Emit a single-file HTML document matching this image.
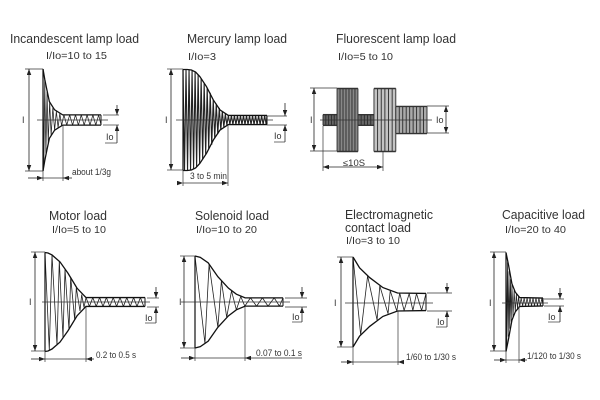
<!DOCTYPE html>
<html lang="en">
<head>
<meta charset="utf-8">
<title>Inrush current by load type</title>
<style>
html,body{margin:0;padding:0;background:#fff;width:600px;height:400px;overflow:hidden}
svg{display:block;filter:blur(0.35px)}
text{font-family:"Liberation Sans",sans-serif;fill:#333}
.t{font-size:12.5px}
.s{font-size:10.5px}
.d{font-size:9px}
</style>
</head>
<body>
<svg id="chart" xmlns="http://www.w3.org/2000/svg" width="600" height="400" viewBox="0 0 600 400">
<defs>
<marker id="a" viewBox="0 0 8 6" refX="8" refY="3" markerWidth="7" markerHeight="4.5" markerUnits="userSpaceOnUse" orient="auto"><path d="M0 0L8 3L0 6Z" fill="#222"/></marker>
</defs>
<rect width="600" height="400" fill="#fff"/>
<g id="marks"></g>
<g>
<text class="t" x="10" y="43" textLength="129" lengthAdjust="spacingAndGlyphs">Incandescent lamp load</text>
<text class="s" x="46" y="59" textLength="61" lengthAdjust="spacingAndGlyphs">I/Io=10 to 15</text>
<text class="t" x="187" y="43" textLength="100" lengthAdjust="spacingAndGlyphs">Mercury lamp load</text>
<text class="s" x="188" y="60" textLength="28" lengthAdjust="spacingAndGlyphs">I/Io=3</text>
<text class="t" x="336" y="43" textLength="120" lengthAdjust="spacingAndGlyphs">Fluorescent lamp load</text>
<text class="s" x="338" y="60" textLength="55" lengthAdjust="spacingAndGlyphs">I/Io=5 to 10</text>
<text class="t" x="49" y="220" textLength="58" lengthAdjust="spacingAndGlyphs">Motor load</text>
<text class="s" x="52" y="233" textLength="54" lengthAdjust="spacingAndGlyphs">I/Io=5 to 10</text>
<text class="t" x="195" y="220" textLength="74" lengthAdjust="spacingAndGlyphs">Solenoid load</text>
<text class="s" x="196" y="233" textLength="61" lengthAdjust="spacingAndGlyphs">I/Io=10 to 20</text>
<text class="t" x="345" y="219" textLength="88" lengthAdjust="spacingAndGlyphs">Electromagnetic</text>
<text class="t" x="345" y="232" textLength="66" lengthAdjust="spacingAndGlyphs">contact load</text>
<text class="s" x="346" y="244" textLength="54" lengthAdjust="spacingAndGlyphs">I/Io=3 to 10</text>
<text class="t" x="502" y="219" textLength="83" lengthAdjust="spacingAndGlyphs">Capacitive load</text>
<text class="s" x="505" y="233" textLength="61" lengthAdjust="spacingAndGlyphs">I/Io=20 to 40</text>
</g>
<g>
<text class="d" x="22" y="123">I</text>
<text class="d" x="106" y="140">Io</text>
<text class="d" x="72" y="175" textLength="39" lengthAdjust="spacingAndGlyphs">about 1/3g</text>
<text class="d" x="165" y="123">I</text>
<text class="d" x="274" y="139">Io</text>
<text class="d" x="190" y="179" textLength="37" lengthAdjust="spacingAndGlyphs">3 to 5 min</text>
<text class="d" x="310" y="123">I</text>
<text class="d" x="436" y="123">Io</text>
<text class="d" x="343" y="166" textLength="22" lengthAdjust="spacingAndGlyphs">≤10S</text>
<text class="d" x="29" y="305">I</text>
<text class="d" x="145" y="321">Io</text>
<text class="d" x="96" y="358" textLength="40" lengthAdjust="spacingAndGlyphs">0.2 to 0.5 s</text>
<text class="d" x="179" y="305">I</text>
<text class="d" x="292" y="320">Io</text>
<text class="d" x="256" y="356" textLength="46" lengthAdjust="spacingAndGlyphs">0.07 to 0.1 s</text>
<text class="d" x="334" y="306">I</text>
<text class="d" x="437" y="325">Io</text>
<text class="d" x="406" y="360" textLength="50" lengthAdjust="spacingAndGlyphs">1/60 to 1/30 s</text>
<text class="d" x="489" y="306">I</text>
<text class="d" x="548" y="320">Io</text>
<text class="d" x="527" y="359" textLength="54" lengthAdjust="spacingAndGlyphs">1/120 to 1/30 s</text>
</g>
</svg>
<script>
// Time is percent of the plotted span; values are percent of peak current.
const incandescentEnvT = [0, 3, 6, 11, 20, 34, 100];
const incandescentEnvA = [100, 80, 63, 36, 20, 10, 10];
const incandescentWaveT = [0, 1.5, 3, 5, 7, 9, 11.5, 14, 17, 20, 23, 26, 29, 32, 36, 41, 46, 51, 56, 61, 66, 71, 76, 81, 86, 91, 96, 100];
const incandescentWaveV = [100, -90, 78, -66, 55, -45, 36, -30, 24, -20, 17, -15, 13, -11, 10, -10, 10, -10, 10, -10, 10, -10, 10, -10, 10, -10, 10, -10];

const mercuryEnvT = [0, 5, 10, 15, 20, 28, 36, 44, 54, 100];
const mercuryEnvA = [100, 100, 99, 95, 86, 66, 40, 20, 9, 9];
const mercuryWaveT = [0, 1.8, 3.6, 5.4, 7.2, 9, 10.8, 12.6, 14.4, 16.2, 18, 19.8, 21.6, 23.4, 25.2, 27, 28.8, 30.6, 32.4, 34.2, 36, 37.8, 39.6, 41.4, 43.2, 45, 46.8, 48.6, 50.4, 52.2, 54, 55.8, 57.6, 59.4, 61.2, 63, 64.8, 66.6, 68.4, 70.2, 72, 73.8, 75.6, 77.4, 79.2, 81, 82.8, 84.6, 86.4, 88.2, 90, 91.8, 93.6, 95.4, 97.2, 99, 100];
const mercuryWaveV = [100, -100, 100, -100, 100, -99, 98, -97, 95, -92, 89, -86, 82, -78, 73, -68, 63, -58, 54, -49, 40, -36, 32, -28, 24, -20, 17, -14, 12, -10, 9, -9, 9, -9, 9, -9, 9, -9, 9, -9, 9, -9, 9, -9, 9, -9, 9, -9, 9, -9, 9, -9, 9, -9, 9, -9, 9];

const fluorescentSegStart = [0, 13.5, 33.6, 49, 70];
const fluorescentSegEnd = [13.5, 33.6, 49, 70, 100];
const fluorescentSegAmp = [17, 100, 17, 100, 43];
const fluorescentSegStripes = [5, 7, 5, 6, 9];

const motorEnvT = [0, 3, 7, 15, 23, 32, 41, 100];
const motorEnvA = [100, 99, 95, 81, 58, 28, 9, 9];
const motorWaveT = [0, 4.3, 7, 12, 14.3, 18, 20, 24, 25.7, 29.7, 31.3, 35, 36.7, 39, 41, 44.4, 47.8, 51.2, 54.6, 58, 61.4, 64.8, 68.2, 71.6, 75, 78.4, 81.8, 85.2, 88.6, 92, 95.4, 98.8];
const motorWaveV = [100, -97, 95, -87, 83, -72, 66, -56, 50, -36, 29, -18, 15, -11, 9, -9, 9, -9, 9, -9, 9, -9, 9, -9, 9, -9, 9, -9, 9, -9, 9, -9];

const solenoidEnvT = [0, 6, 15, 26, 38, 47, 57, 100];
const solenoidEnvA = [100, 97, 85, 55, 30, 17, 9, 9];
const solenoidWaveT = [0, 11.3, 16, 26, 30, 36, 41.5, 47, 52, 56.6, 63, 70, 76.6, 83, 90, 96, 100];
const solenoidWaveV = [100, -90, 82, -55, 46, -33, 24, -17, 12, -9, 9, -9, 9, -9, 9, -9, 9];

const electromagneticEnvT = [0, 9, 23, 41, 61, 100];
const electromagneticEnvA = [100, 76, 54, 32, 20, 19];
const electromagneticWaveT = [0, 10.5, 20, 33, 36.7, 48, 51, 60, 64, 70, 77, 82, 87, 94, 100];
const electromagneticWaveV = [100, -73, 58, -40, 36, -26, 25, -20, 20, -19, 19, -19, 19, -19, 19];

const capacitiveEnvT = [0, 7, 16, 25, 37, 100];
const capacitiveEnvA = [100, 74, 37, 20, 9, 8];
const capacitiveWaveT = [0, 2, 4, 6, 8, 10, 12, 14, 16, 19, 22, 25, 28, 31, 34, 37, 41, 45, 49, 53, 57, 61, 65, 69, 73, 77, 81, 85, 89, 93, 97, 100];
const capacitiveWaveV = [100, -88, 80, -70, 62, -54, 46, -40, 36, -30, 24, -20, 16, -13, 11, -9, 8, -8, 8, -8, 8, -8, 8, -8, 8, -8, 8, -8, 8, -8, 8, -8];

const NS = 'http://www.w3.org/2000/svg';
const root = document.getElementById('marks');

function add(tag, attrs, name, parent) {
  const el = document.createElementNS(NS, tag);
  for (const k in attrs) el.setAttribute(k, attrs[k]);
  
  
  (parent || root).appendChild(el);
  return el;
}
function makeX(x0, x1) { return t => x0 + (x1 - x0) * t / 100; }
function makeY(cy, half) { return v => cy - half * v / 100; }

function seg(g, name, x1, y1, x2, y2, w) {
  return add('line', {x1: x1, y1: y1, x2: x2, y2: y2, stroke: '#333', 'stroke-width': w || 0.7}, name, g);
}
// Single-headed arrow whose point lands on (x2, y2).
function arrowTo(g, name, x1, y1, x2, y2) {
  return add('line', {x1: x1, y1: y1, x2: x2, y2: y2, stroke: '#222', 'stroke-width': 0.8, 'marker-end': 'url(#a)'}, name, g);
}
function arrow(g, name, x1, y1, x2, y2) {
  const mx = (x1 + x2) / 2, my = (y1 + y2) / 2;
  arrowTo(g, name + '-start', mx, my, x1, y1);
  arrowTo(g, name + '-end', mx, my, x2, y2);
}

function drawWave(name, x0, x1, cy, half, envT, envA, waveT, waveV, waveW) {
  const g = add('g', {}, name + '-waveform');
  const x = makeX(x0, x1), y = makeY(cy, half);
  add('polyline', {
    points: waveT.map((t, i) => x(t).toFixed(2) + ',' + y(waveV[i]).toFixed(2)).join(' '),
    fill: 'none', stroke: '#222', 'stroke-width': waveW, 'stroke-linejoin': 'bevel'
  }, name + '-oscillation', g);
  add('polyline', {
    points: envT.map((t, i) => x(t).toFixed(2) + ',' + y(envA[i]).toFixed(2)).join(' '),
    fill: 'none', stroke: '#111', 'stroke-width': 1.3
  }, name + '-upper-envelope', g);
  add('polyline', {
    points: envT.map((t, i) => x(t).toFixed(2) + ',' + y(-envA[i]).toFixed(2)).join(' '),
    fill: 'none', stroke: '#111', 'stroke-width': 1.3
  }, name + '-lower-envelope', g);
  add('line', {x1: x0, y1: y(envA[0]), x2: x0, y2: y(-envA[0]), stroke: '#111', 'stroke-width': 1.2}, name + '-inrush-edge', g);
  const last = envA[envA.length - 1];
  add('line', {x1: x1, y1: y(last), x2: x1, y2: y(-last), stroke: '#111', 'stroke-width': 1}, name + '-end-edge', g);
}

function drawDims(name, d) {
  const g = add('g', {}, name + '-dimensions');
  seg(g, name + '-center-line', d.cl0, d.cy, d.cl1, d.cy);
  seg(g, name + '-peak-tick-top', d.ix - 4, d.top, d.x0, d.top);
  seg(g, name + '-peak-tick-bottom', d.ix - 4, d.bot, d.x0, d.bot);
  arrow(g, name + '-peak-arrow', d.ix, d.top, d.ix, d.bot);
  seg(g, name + '-steady-tick-top', d.tick0, d.bt, d.tick1, d.bt);
  seg(g, name + '-steady-tick-bottom', d.tick0, d.bb, d.tick1, d.bb);
  arrowTo(g, name + '-steady-arrow-top', d.iox, d.ioTop, d.iox, d.bt);
  arrowTo(g, name + '-steady-arrow-bottom', d.iox, d.ioBot, d.iox, d.bb);
  seg(g, name + '-steady-underline', d.ul0, d.ioBot, d.iox, d.ioBot);
  seg(g, name + '-start-extension', d.x0, d.bot, d.x0, d.dy + 3);
  seg(g, name + '-knee-extension', d.knee, d.bb, d.knee, d.dy + 3);
  seg(g, name + '-duration-line', d.x0, d.dy, d.knee, d.dy);
  arrowTo(g, name + '-duration-arrow-left', d.dy0, d.dy, d.x0, d.dy);
  arrowTo(g, name + '-duration-arrow-right', d.dy1, d.dy, d.knee, d.dy);
}

drawWave('incandescent', 43, 101, 120, 51, incandescentEnvT, incandescentEnvA, incandescentWaveT, incandescentWaveV, 0.75);
drawDims('incandescent', {cy: 120, cl0: 37, cl1: 108, ix: 29, top: 69, bot: 171, x0: 43, tick0: 103, tick1: 119, bt: 115, bb: 125, iox: 117, ioTop: 105, ioBot: 143, ul0: 105, knee: 63, dy: 178, dy0: 28, dy1: 72});

drawWave('mercury', 183, 267, 120, 50.5, mercuryEnvT, mercuryEnvA, mercuryWaveT, mercuryWaveV, 1.1);
drawDims('mercury', {cy: 120, cl0: 176, cl1: 273, ix: 171, top: 69, bot: 170, x0: 183, tick0: 267, tick1: 287, bt: 116, bb: 125, iox: 285, ioTop: 103, ioBot: 142, ul0: 274, knee: 228, dy: 183, dy0: 183, dy1: 228});

// Fluorescent load: stepped current bands
(function () {
  const g = add('g', {}, 'fluorescent-waveform');
  const x = makeX(323, 427), y = makeY(120, 31.5);
  const fills = ['#666', '#888', '#666', '#c4c4c4', '#aaa'];
  fluorescentSegAmp.forEach((amp, i) => {
    const a = x(fluorescentSegStart[i]), b = x(fluorescentSegEnd[i]);
    add('rect', {x: a, y: y(amp), width: b - a, height: y(-amp) - y(amp), fill: fills[i]}, 'fluorescent-band-' + i, g);
    const n = fluorescentSegStripes[i];
    for (let k = 0; k <= n; k++) {
      const sx = a + (b - a) * k / n;
      add('line', {x1: sx, y1: y(amp), x2: sx, y2: y(-amp), stroke: '#2a2a2a', 'stroke-width': 0.9}, 'fluorescent-stripe', g);
    }
    seg(g, 'fluorescent-band-top', a, y(amp), b, y(amp), 1.4);
    seg(g, 'fluorescent-band-bottom', a, y(-amp), b, y(-amp), 1.4);
  });
  seg(g, 'fluorescent-center-line', 320, 120, 432, 120, 0.8);
  seg(g, 'fluorescent-peak-tick-top', 310, 88, 337, 88);
  seg(g, 'fluorescent-peak-tick-bottom', 310, 151, 337, 151);
  arrow(g, 'fluorescent-peak-arrow', 314, 88, 314, 151);
  seg(g, 'fluorescent-steady-tick-top', 427, 106, 449, 106);
  seg(g, 'fluorescent-steady-tick-bottom', 427, 133, 449, 133);
  arrow(g, 'fluorescent-steady-arrow', 446, 106, 446, 133);
  seg(g, 'fluorescent-start-extension', 323, 126, 323, 171);
  seg(g, 'fluorescent-end-extension', 383, 151, 383, 171);
  arrow(g, 'fluorescent-duration-arrow', 323, 167, 383, 167);
})();

drawWave('motor', 45, 145, 302, 49.5, motorEnvT, motorEnvA, motorWaveT, motorWaveV, 0.8);
drawDims('motor', {cy: 302, cl0: 42, cl1: 150, ix: 35, top: 252, bot: 351, x0: 45, tick0: 147, tick1: 159, bt: 298, bb: 307, iox: 156, ioTop: 287, ioBot: 323, ul0: 145, knee: 86, dy: 359, dy0: 31, dy1: 94});

drawWave('solenoid', 195, 283, 302, 46, solenoidEnvT, solenoidEnvA, solenoidWaveT, solenoidWaveV, 0.8);
drawDims('solenoid', {cy: 302, cl0: 181, cl1: 290, ix: 184, top: 256, bot: 348, x0: 195, tick0: 285, tick1: 307, bt: 298, bb: 307, iox: 302, ioTop: 287, ioBot: 322, ul0: 292, knee: 245, dy: 358, dy0: 181, dy1: 302});

drawWave('electromagnetic', 353, 426, 302, 45, electromagneticEnvT, electromagneticEnvA, electromagneticWaveT, electromagneticWaveV, 0.8);
drawDims('electromagnetic', {cy: 303, cl0: 345, cl1: 433, ix: 341, top: 257, bot: 347, x0: 353, tick0: 427, tick1: 452, bt: 293, bb: 311, iox: 447, ioTop: 283, ioBot: 327, ul0: 436, knee: 398, dy: 362, dy0: 341, dy1: 404});

drawWave('capacitive', 506, 543, 302, 49.5, capacitiveEnvT, capacitiveEnvA, capacitiveWaveT, capacitiveWaveV, 0.75);
drawDims('capacitive', {cy: 303, cl0: 502, cl1: 548, ix: 494, top: 252, bot: 351, x0: 506, tick0: 544, tick1: 564, bt: 299, bb: 306, iox: 560, ioTop: 288, ioBot: 322, ul0: 548, knee: 519, dy: 360, dy0: 494, dy1: 527});
</script>
</body>
</html>
